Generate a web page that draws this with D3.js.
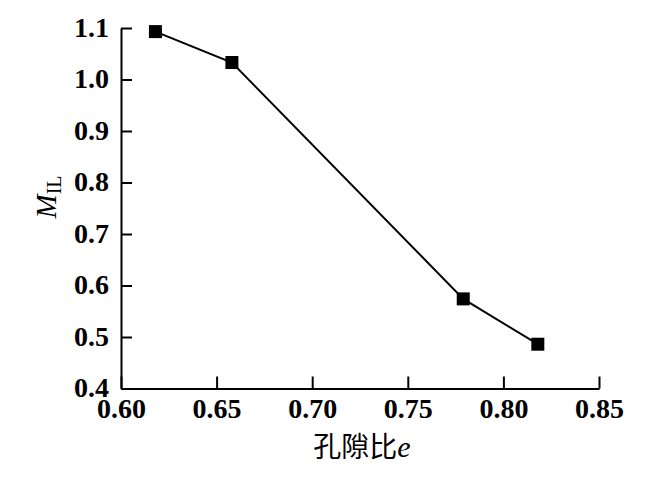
<!DOCTYPE html>
<html>
<head>
<meta charset="utf-8">
<script src="https://cdn.jsdelivr.net/npm/d3@7"></script>
<style>
  body { margin: 0; background: #fff; }
  .axis text { font-family: "Liberation Serif", serif; font-weight: bold; font-size: 28px; fill: #000; }
  .axis path, .axis line { stroke: #000; stroke-width: 2px; }
</style>
</head>
<body>
<div id="chart-area"></div>
<script>
// data
const voidRatio = [0.618, 0.658, 0.779, 0.818]
const mIL = [1.093, 1.033, 0.574, 0.486]
const xTicks = [0.60, 0.65, 0.70, 0.75, 0.80, 0.85]
const yTicks = [0.4, 0.5, 0.6, 0.7, 0.8, 0.9, 1.0, 1.1]

const W = 662, H = 477
const MARGIN = { LEFT: 121, RIGHT: 63, TOP: 28, BOTTOM: 88.5 }

const svg = d3.select("#chart-area").append("svg")
    .attr("width", W)
    .attr("height", H)

const x = d3.scaleLinear()
    .domain([0.60, 0.85])
    .range([MARGIN.LEFT, W - MARGIN.RIGHT])

const y = d3.scaleLinear()
    .domain([0.4, 1.1])
    .range([H - MARGIN.BOTTOM, MARGIN.TOP])

// x axis, ticks pointing inward
svg.append("g")
    .attr("class", "axis")
    .attr("transform", `translate(0,${H - MARGIN.BOTTOM})`)
    .call(d3.axisBottom(x)
        .tickValues(xTicks)
        .tickFormat(d3.format(".2f"))
        .tickSizeInner(-12)
        .tickSizeOuter(0)
        .tickPadding(10))

// y axis
svg.append("g")
    .attr("class", "axis")
    .attr("transform", `translate(${MARGIN.LEFT},0)`)
    .call(d3.axisLeft(y)
        .tickValues(yTicks)
        .tickFormat(d3.format(".1f"))
        .tickSizeInner(-11)
        .tickSizeOuter(0)
        .tickPadding(12))
    .selectAll(".tick text")
    .attr("dy", "0.30em")

const points = voidRatio.map((v, i) => ({ e: v, m: mIL[i] }))

const line = d3.line()
    .x(d => x(d.e))
    .y(d => y(d.m))

svg.append("path")
    .datum(points)
    .attr("fill", "none")
    .attr("stroke", "#000")
    .attr("stroke-width", 2)
    .attr("d", line)

const S = 13
svg.selectAll("rect.pt")
    .data(points)
    .enter()
    .append("rect")
    .attr("class", "pt")
    .attr("x", d => x(d.e) - S / 2)
    .attr("y", d => y(d.m) - S / 2)
    .attr("width", S)
    .attr("height", S)
    .attr("fill", "#000")

// x axis title
const xt = svg.append("text")
    .attr("x", 362)
    .attr("y", 457)
    .attr("text-anchor", "middle")
xt.append("tspan")
    .attr("font-family", "Noto Sans CJK SC")
    .attr("font-size", "28px")
    .text("孔隙比")
xt.append("tspan")
    .attr("font-family", "Liberation Serif")
    .attr("font-style", "italic")
    .attr("font-size", "30px")
    .text("e")

// y axis title
const yt = svg.append("text")
    .attr("transform", "translate(56,197) rotate(-90)")
    .attr("text-anchor", "middle")
    .attr("font-family", "Liberation Serif")
yt.append("tspan")
    .attr("font-style", "italic")
    .attr("font-size", "29px")
    .text("M")
yt.append("tspan")
    .attr("font-size", "20px")
    .attr("dy", 5)
    .text("IL")
</script>
</body>
</html>
